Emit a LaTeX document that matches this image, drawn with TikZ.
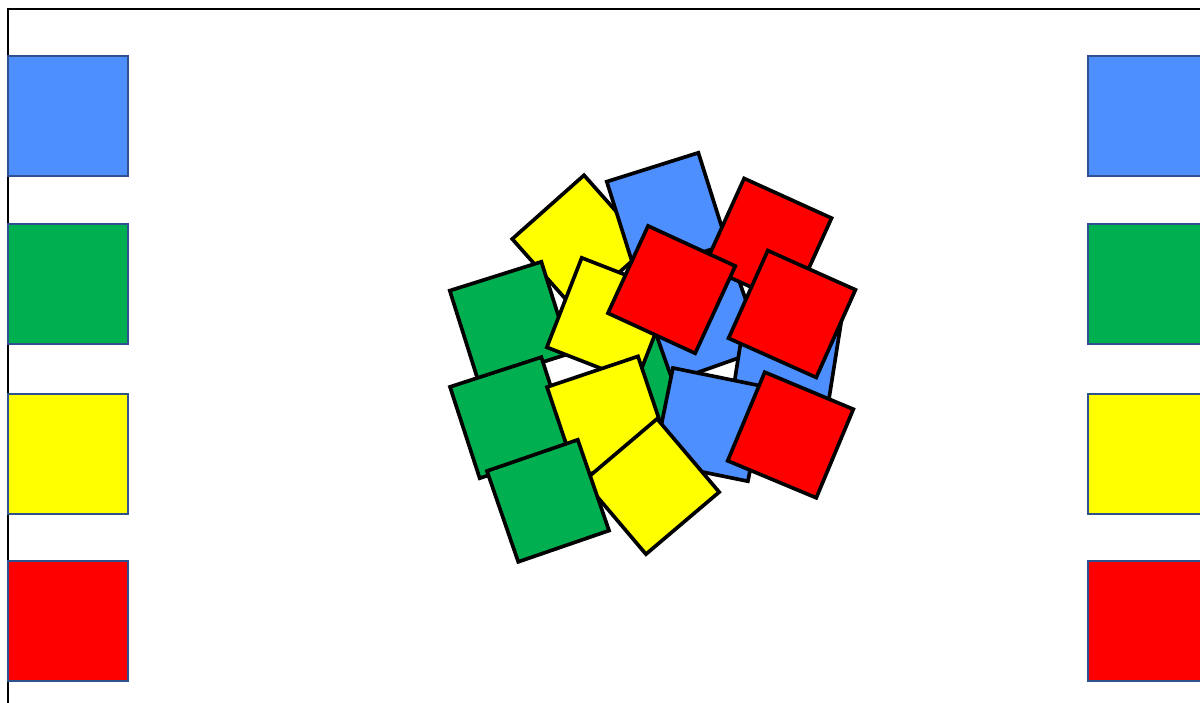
\documentclass[tikz,border=0pt]{standalone}
\usepackage{tikz}
\definecolor{tileblue}{RGB}{78,143,255}
\definecolor{tilegreen}{RGB}{0,176,80}
\definecolor{tileyellow}{RGB}{255,255,0}
\definecolor{tilered}{RGB}{255,0,0}
\definecolor{rimblue}{RGB}{47,82,143}

\begin{document}
\begin{tikzpicture}[x=0.025cm, y=-0.025cm,
  tile/.style={draw=black, line width=2.6pt, minimum size=2.4cm, inner sep=0pt, outer sep=0pt},
  swatch/.style={draw=rimblue, line width=1.4pt, minimum size=3cm, inner sep=0pt, outer sep=0pt}]
\useasboundingbox (0,0) rectangle (1200,702);
\clip (0,0) rectangle (1200,702);
% --- frame ---
\coordinate (frametop) at (1210,9);
\coordinate (framefoot) at (8,710);
\draw[line width=1.4pt] (framefoot) |- (frametop);
% --- colour swatches, left and right ---
\node[swatch, fill=tileblue]   (lblue)   at (68,116) {};
\node[swatch, fill=tilegreen]  (lgreen)  at (68,284) {};
\node[swatch, fill=tileyellow] (lyellow) at (68,454) {};
\node[swatch, fill=tilered]    (lred)    at (68,621) {};
\node[swatch, fill=tileblue]   (rblue)   at (1148,116) {};
\node[swatch, fill=tilegreen]  (rgreen)  at (1148,284) {};
\node[swatch, fill=tileyellow] (ryellow) at (1148,454) {};
\node[swatch, fill=tilered]    (rred)    at (1148,621) {};
% --- pile of tiles, bottom first ---
\node[tile, fill=tilegreen]              (g4) at (651,378) {};
\node[tile, fill=tileyellow, rotate=41.6] (y1) at (580,243) {};
\node[tile, fill=tileblue, rotate=17.5]  (b1) at (667,213) {};
\node[tile, fill=tileblue, rotate=19.5]  (b2) at (702,320) {};
\node[tile, fill=tilered, rotate=-24.4]  (r1) at (768,242) {};
\node[tile, fill=tilegreen, rotate=17.5] (g1) at (510,322) {};
\node[tile, fill=tileyellow, rotate=-21.3] (y2) at (609,320) {};
\node[tile, fill=tilegreen, rotate=18]   (g2) at (510.5,417.7) {};
\node[tile, fill=tileyellow, rotate=18.6] (y3) at (607.8,417.2) {};
\node[tile, fill=tileblue, rotate=-9]    (b3) at (787,357) {};
\node[tile, fill=tileblue, rotate=-11.5] (b4) at (710.4,424.6) {};
\node[tile, fill=tileyellow, rotate=40.3] (y4) at (651.5,486.5) {};
\node[tile, fill=tilegreen, rotate=19]   (g3) at (548,500.8) {};
\node[tile, fill=tilered, rotate=-24.7]  (r2) at (671.6,289.6) {};
\node[tile, fill=tilered, rotate=-24.1]  (r3) at (792,314) {};
\node[tile, fill=tilered, rotate=-22.7]  (r4) at (790.5,435) {};
\end{tikzpicture}
\end{document}
